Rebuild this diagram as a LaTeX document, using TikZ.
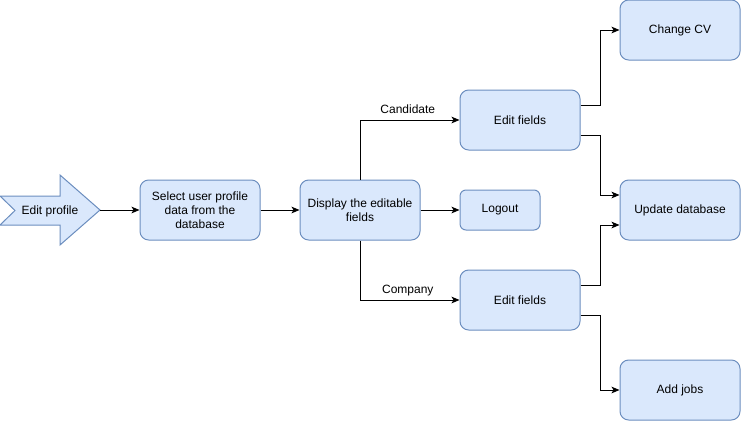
\documentclass[tikz,border=0pt]{standalone}
\usepackage{fontspec}
\setmainfont{Liberation Sans}
\usetikzlibrary{arrows.meta,calc}
\definecolor{bfill}{HTML}{DAE8FC}
\definecolor{bdraw}{HTML}{6C8EBF}
\begin{document}
\begin{tikzpicture}[x=0.75pt,y=-0.75pt,
  every node/.style={font=\fontsize{9pt}{10.5pt}\selectfont, inner sep=0pt},
  box/.style={draw=bdraw, fill=bfill, rounded corners=6.5pt, line width=0.75pt,
    minimum width=90pt, minimum height=45pt, align=center},
  smallbox/.style={box, minimum width=60pt, minimum height=30pt, rounded corners=4.5pt},
  conn/.style={draw=black, line width=0.75pt, -{Stealth[length=6pt,width=5pt,inset=1.5pt]}},
  lbl/.style={font=\fontsize{9pt}{10.5pt}\selectfont, text depth=0pt}]
\useasboundingbox (0,0) rectangle (741,421);
% Edit profile arrow shape
\draw[draw=bdraw, fill=bfill, line width=0.75pt, line join=miter]
  (0,196) -- (60,196) -- (60,175) -- (100,210) -- (60,245) -- (60,225) -- (0,225) -- (15,210.5) -- cycle;
\node (ep) at (50,211) {Edit profile};
\coordinate (eptip) at (100,210);
% boxes
\node[box] (sel) at (200,210) {Select user profile\\data from the\\database};
\node[box] (disp) at (360,210) {Display the editable\\fields};
\node[box] (ef1) at (520,120) {Edit fields};
\node[smallbox] (lo) at (500,210) {Logout};
\node[box] (ef2) at (520,300) {Edit fields};
\node[box] (cv) at (680,30) {Change CV};
\node[box] (ud) at (680,210) {Update database};
\node[box] (aj) at (680,390) {Add jobs};
% connectors
\draw[conn] (eptip) -- (sel.west);
\draw[conn] (sel.east) -- (disp.west);
\draw[conn] (disp.east) -- (lo.west);
\draw[conn] (disp.north) |- node[lbl, pos=0.74, above=4.5pt] {Candidate} (ef1.west);
\draw[conn] (disp.south) |- node[lbl, pos=0.74, above=4.5pt] {Company} (ef2.west);
\draw[conn] ([yshift=11.25pt]ef1.east) -- ++(20,0) |- (cv.west);
\draw[conn] ([yshift=-11.25pt]ef1.east) -- ++(20,0) |- ([yshift=11.25pt]ud.west);
\draw[conn] ([yshift=11.25pt]ef2.east) -- ++(20,0) |- ([yshift=-11.25pt]ud.west);
\draw[conn] ([yshift=-11.25pt]ef2.east) -- ++(20,0) |- (aj.west);
\end{tikzpicture}
\end{document}
